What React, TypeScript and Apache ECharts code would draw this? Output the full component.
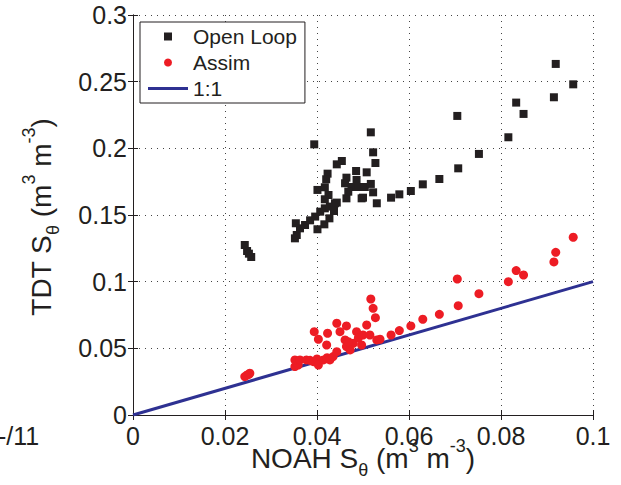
import React, { useEffect, useRef } from "react";
import * as echarts from "echarts";

const openLoopX = [
  0.0243, 0.0248, 0.0252, 0.0257,
  0.0352, 0.0356, 0.0354, 0.0363, 0.0374, 0.0385, 0.0396, 0.0407, 0.0417, 0.0428, 0.0439,
  0.0401, 0.0416, 0.0427, 0.0437,
  0.0517, 0.0394, 0.0522, 0.0527, 0.0454, 0.0443, 0.0423, 0.042, 0.0485, 0.0508, 0.0464, 0.0461,
  0.0486, 0.0475, 0.049, 0.0504, 0.0517, 0.0522, 0.053, 0.0401, 0.0417, 0.0425, 0.0417, 0.0443,
  0.0464, 0.0468, 0.0497, 0.05,
  0.0561, 0.0579, 0.0604, 0.063, 0.0666, 0.0707, 0.0752, 0.0816, 0.0705, 0.0849, 0.0833, 0.0915,
  0.0957, 0.0919,
];
const openLoopY = [
  0.1275, 0.123, 0.121, 0.1185,
  0.1325, 0.135, 0.1438, 0.14, 0.1425, 0.146, 0.1488, 0.1525, 0.155, 0.1563, 0.1588,
  0.1393, 0.143, 0.1475, 0.153,
  0.212, 0.203, 0.197, 0.189, 0.1905, 0.188, 0.181, 0.1768, 0.183, 0.182, 0.178, 0.1738,
  0.1763, 0.171, 0.171, 0.171, 0.1733, 0.167, 0.1588, 0.1688, 0.1708, 0.165, 0.1618, 0.1593,
  0.1625, 0.1675, 0.1625, 0.163,
  0.163, 0.1655, 0.168, 0.173, 0.177, 0.185, 0.1958, 0.2083, 0.2243, 0.2258, 0.2343, 0.2383,
  0.248, 0.2633,
];

const assimX = [
  0.0243, 0.0248, 0.0252, 0.0254,
  0.0352, 0.0359, 0.0352, 0.0363, 0.0377, 0.0385, 0.0392, 0.04, 0.0403, 0.0414, 0.0422, 0.0428,
  0.0435, 0.0443,
  0.0517, 0.0522, 0.0527, 0.0443, 0.0464, 0.0394, 0.0423, 0.0403, 0.0421, 0.045, 0.0461, 0.0486,
  0.0508, 0.05, 0.0515, 0.053, 0.0464, 0.0479, 0.0497, 0.0472, 0.0468, 0.049,
  0.0537, 0.0561, 0.0579, 0.0604, 0.063, 0.0666, 0.0707, 0.0705, 0.0752, 0.0816, 0.0833, 0.0849,
  0.0915, 0.0919, 0.0957,
];
const assimY = [
  0.0288, 0.03, 0.0305, 0.0313,
  0.0363, 0.0375, 0.0413, 0.0413, 0.0413, 0.041, 0.04, 0.042, 0.0375, 0.0413, 0.043, 0.0413,
  0.0438, 0.0475,
  0.087, 0.08, 0.073, 0.0688, 0.0668, 0.0625, 0.0613, 0.0568, 0.0525, 0.0625, 0.0563, 0.0625,
  0.0675, 0.06, 0.06, 0.0563, 0.0513, 0.0538, 0.0525, 0.0488, 0.055, 0.058,
  0.0568, 0.06, 0.0633, 0.0668, 0.0718, 0.0755, 0.082, 0.102, 0.091, 0.1, 0.1083, 0.105,
  0.1148, 0.122, 0.1333,
];

const oneToOneX = [0, 0.1];
const oneToOneY = [0, 0.1];

const seriesNames = ["Open Loop", "Assim", "1:1"];

const FONT = "'Liberation Sans', Arial, Helvetica, sans-serif";
const INK = "#231f20";
const RED = "#ed1c24";
const BLUE = "#2e3192";

const titleRich = {
  n: { fontSize: 28, lineHeight: 42, fontFamily: FONT, color: INK },
  sub: { fontSize: 18, lineHeight: 4, verticalAlign: "bottom", fontFamily: FONT, color: INK },
  sup: { fontSize: 18, lineHeight: 19, verticalAlign: "top", fontFamily: FONT, color: INK },
};

const zip = (xs: number[], ys: number[]) => xs.map((x, i) => [x, ys[i]]);

export default function App() {
  const ref = useRef<HTMLDivElement>(null);
  useEffect(() => {
    if (!ref.current) return;
    const chart = echarts.init(ref.current, undefined, { renderer: "svg" });
    const axisLine = { show: true, lineStyle: { color: INK, width: 1 } };
    const tick = { show: true, inside: true, length: 5, lineStyle: { color: INK, width: 1 } };
    const grid = { show: true, lineStyle: { color: "#444", width: 1, type: [1, 5] } };
    const label = { fontSize: 25, color: INK, fontFamily: FONT };
    chart.setOption({
      animation: false,
      backgroundColor: "#fff",
      grid: { left: 133, right: 28, top: 15, bottom: 70, containLabel: false },
      xAxis: [
        {
          type: "value", min: 0, max: 0.1, interval: 0.02, position: "bottom",
          axisLine, axisTick: tick, splitLine: grid,
          axisLabel: { ...label, margin: 8 },
        },
        {
          type: "value", min: 0, max: 0.1, interval: 0.02, position: "top",
          axisLine, axisTick: tick, splitLine: { show: false }, axisLabel: { show: false },
        },
      ],
      yAxis: [
        {
          type: "value", min: 0, max: 0.3, interval: 0.05, position: "left",
          axisLine, axisTick: tick, splitLine: grid,
          axisLabel: { ...label, margin: 6 },
        },
        {
          type: "value", min: 0, max: 0.3, interval: 0.05, position: "right",
          axisLine, axisTick: tick, splitLine: { show: false }, axisLabel: { show: false },
        },
      ],
      legend: {
        orient: "vertical",
        left: 140,
        top: 22,
        data: [
          { name: seriesNames[0], icon: "path://M0,0h10v10h-10z", itemStyle: { color: INK, borderWidth: 0 } },
          { name: seriesNames[1], icon: "circle", itemStyle: { color: RED, borderWidth: 0 } },
          {
            name: seriesNames[2],
            icon: "path://M0,0h40v3h-40z",
            itemStyle: { color: BLUE, borderWidth: 0 },
            lineStyle: { width: 0 },
          },
        ],
        itemWidth: 40,
        itemHeight: 8,
        itemGap: 5,
        padding: [4, 8, 4, 8],
        borderColor: INK,
        borderWidth: 1,
        borderRadius: 0,
        backgroundColor: "#fff",
        selectedMode: false,
        textStyle: { fontSize: 21, lineHeight: 21, color: INK, fontFamily: FONT },
      },
      series: [
        {
          name: seriesNames[2],
          type: "line",
          data: zip(oneToOneX, oneToOneY),
          symbol: "none",
          lineStyle: { color: BLUE, width: 3 },
          itemStyle: { color: BLUE },
          z: 1,
        },
        {
          name: seriesNames[0],
          type: "scatter",
          data: zip(openLoopX, openLoopY),
          symbol: "rect",
          symbolSize: 8,
          itemStyle: { color: INK, opacity: 1 },
          z: 2,
        },
        {
          name: seriesNames[1],
          type: "scatter",
          data: zip(assimX, assimY),
          symbol: "circle",
          symbolSize: 9,
          itemStyle: { color: RED, opacity: 1 },
          z: 3,
        },
      ],
      graphic: [
        {
          type: "text",
          x: 363,
          y: 458,
          style: {
            text: "{n|NOAH S}{sub|θ}{n| (m}{sup|3}{n| m}{sup|-3}{n|)}",
            rich: titleRich,
            align: "center",
            verticalAlign: "middle",
            font: `28px ${FONT}`,
            fill: INK,
          },
        },
        {
          type: "text",
          x: 41,
          y: 217,
          rotation: Math.PI / 2,
          style: {
            text: "{n|TDT S}{sub|θ}{n| (m}{sup|3}{n| m}{sup|-3}{n|)}",
            rich: titleRich,
            align: "center",
            verticalAlign: "middle",
            font: `28px ${FONT}`,
            fill: INK,
          },
        },
        {
          type: "text",
          x: -2,
          y: 436,
          style: {
            text: "-/11",
            align: "left",
            verticalAlign: "middle",
            font: `25px ${FONT}`,
            fill: INK,
          },
        },
      ],
    });
    return () => chart.dispose();
  }, []);
  return (
    <div
      ref={ref}
      style={{ position: "fixed", left: 0, top: 0, width: 621, height: 485 }}
    />
  );
}
